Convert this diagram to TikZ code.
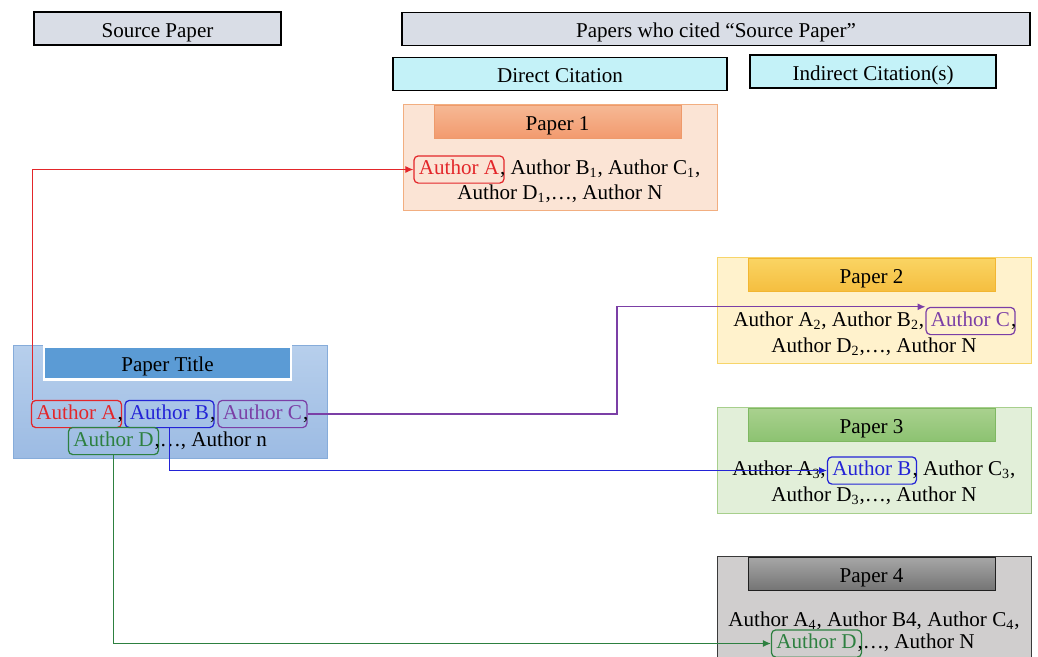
\documentclass[tikz,border=0pt]{standalone}
\usepackage{fontspec}
\setmainfont{Liberation Serif}
\usetikzlibrary{arrows.meta,positioning}

\newcommand{\pix}{0.02cm}

%% bar colours
\definecolor{bargrey}{HTML}{D9DDE6}
\definecolor{barcyan}{HTML}{C4F2F8}
%% paper frames
\definecolor{paperfill1}{HTML}{FBE4D5}
\definecolor{paperline1}{HTML}{F2AE80}
\definecolor{headtop1}{HTML}{F6B894}
\definecolor{headbot1}{HTML}{F29A6E}
\definecolor{headline1}{HTML}{EE9A6B}
\definecolor{paperfill2}{HTML}{FFF2CC}
\definecolor{paperline2}{HTML}{F7D56A}
\definecolor{headtop2}{HTML}{FAD463}
\definecolor{headbot2}{HTML}{F5BE3F}
\definecolor{headline2}{HTML}{F2B632}
\definecolor{paperfill3}{HTML}{E2EFD9}
\definecolor{paperline3}{HTML}{A7CF8C}
\definecolor{headtop3}{HTML}{A9D18E}
\definecolor{headbot3}{HTML}{8CC271}
\definecolor{headline3}{HTML}{7FB862}
\definecolor{paperfill4}{HTML}{D0CECE}
\definecolor{paperline4}{HTML}{3A3A3A}
\definecolor{headtop4}{HTML}{A6A6A6}
\definecolor{headbot4}{HTML}{747474}
\definecolor{headline4}{HTML}{202020}
\definecolor{srctop}{HTML}{B7CFEC}
\definecolor{srcbot}{HTML}{9CBBE3}
\definecolor{srcline}{HTML}{86ACDA}
\definecolor{srchead}{HTML}{5B9BD5}
%% authors
\definecolor{redA}{HTML}{E3262A}
\definecolor{blueB}{HTML}{2323D6}
\definecolor{purpleC}{HTML}{7B3FA6}
\definecolor{greenD}{HTML}{2D8040}

\tikzset{
  titlebar/.style={draw=black, line width=1.1pt, fill=bargrey, inner sep=0pt,
                   minimum height=33*\pix, text height=10pt, text depth=0pt},
  citebar/.style={titlebar, fill=barcyan},
  paperbox/.style={draw, line width=0.6pt, anchor=north west, inner sep=0pt,
                   minimum width=314*\pix, minimum height=106*\pix},
  headbox/.style={draw, line width=0.6pt, anchor=north, inner sep=0pt,
                  minimum width=247*\pix, minimum height=33*\pix,
                  text height=10pt, text depth=0pt},
  authbox/.style={draw=#1, text=#1, line width=0.7pt, rounded corners=2.5pt,
                  inner xsep=2.8pt, inner ysep=2.2pt, text height=8.5pt, text depth=2.6pt},
  authtext/.style={inner sep=0pt},
  link/.style={draw=#1, line width=0.6pt, -{Latex[length=4.5pt,width=4pt]}}
}

\begin{document}
\begin{tikzpicture}[x=\pix, y=-\pix, font=\fontsize{12}{14}\selectfont]
  \clip (0,0) rectangle (1038,656);

  %% top bars
  \node[titlebar, minimum width=247*\pix] (srcbar) at (157.5,28.5) {Source Paper};
  \node[titlebar, minimum width=628*\pix] (citedbar) at (716,29) {Papers who cited “Source Paper”};
  \node[citebar, minimum width=334*\pix] (directbar) at (560,74) {Direct Citation};
  \node[citebar, minimum width=246*\pix] (indirectbar) at (873,71.5) {Indirect Citation(s)};

  %% citing papers
  \foreach \i/\xx/\yy in {1/403/104, 2/717/257, 3/717/407, 4/717/556} {
    \node[paperbox, draw=paperline\i, fill=paperfill\i] (paper\i) at (\xx,\yy) {};
    \node[headbox, draw=headline\i, top color=headtop\i, bottom color=headbot\i]
      (head\i) at ([xshift=-3*\pix, yshift=-1*\pix]paper\i.north) {Paper \i};
  }

  %% source paper
  \node[paperbox, minimum height=113*\pix, draw=srcline, top color=srctop, bottom color=srcbot]
    (srcbox) at (13,345) {};
  \node[headbox, draw=white, line width=1.5pt, fill=srchead] (srctitle) at (167.5,345) {Paper Title};

  %% authors of the source paper
  \node[authbox=redA] (srcA) at (76.5,414) {Author A};
  \node[authbox=blueB] (srcB) at (169.5,414) {Author B};
  \node[authbox=purpleC] (srcC) at (262.5,414) {Author C};
  \node[authtext, anchor=base west] (srcAc) at ([xshift=-2.8pt]srcA.base east) {,};
  \node[authtext, anchor=base west] (srcBc) at ([xshift=-2.8pt]srcB.base east) {,};
  \node[authtext, anchor=base west] (srcCc) at ([xshift=-2.8pt]srcC.base east) {,};
  \node[authbox=greenD] (srcD) at (113.5,441) {Author D};
  \node[authtext, anchor=base west] (srcrest) at ([xshift=-2.8pt]srcD.base east) {,\ldots, Author n};

  %% paper 1
  \node[authbox=redA] (p1A) at (459,169.5) {Author A};
  \node[authtext, anchor=base west] (p1rest) at ([xshift=-2.8pt]p1A.base east)
    {, Author B\textsubscript{1}, Author C\textsubscript{1},};
  \node[authtext, anchor=base] (p1line2) at (560,199) {Author D\textsubscript{1},\ldots, Author N};

  %% paper 2
  \node[authbox=purpleC] (p2C) at (970.5,321) {Author C};
  \node[authtext, anchor=base east] (p2left) at ([xshift=-0.5pt]p2C.base west)
    {Author A\textsubscript{2}, Author B\textsubscript{2},};
  \node[authtext, anchor=base west] (p2rest) at ([xshift=-2.8pt]p2C.base east) {,};
  \node[authtext, anchor=base] (p2line2) at (874,352) {Author D\textsubscript{2},\ldots, Author N};

  %% paper 3
  \node[authbox=blueB] (p3B) at (872,470.5) {Author B};
  \node[authtext, anchor=base east] (p3left) at ([xshift=-0.5pt]p3B.base west) {Author A\textsubscript{3},};
  \node[authtext, anchor=base west] (p3rest) at ([xshift=-2.8pt]p3B.base east)
    {, Author C\textsubscript{3},};
  \node[authtext, anchor=base] (p3line2) at (874,501) {Author D\textsubscript{3},\ldots, Author N};

  %% paper 4
  \node[authtext, anchor=base] (p4line1) at (874,626)
    {Author A\textsubscript{4}, Author B4, Author C\textsubscript{4},};
  \node[authbox=greenD] (p4D) at (816.5,643.5) {Author D};
  \node[authtext, anchor=base west] (p4rest) at ([xshift=-2.8pt]p4D.base east) {,\ldots, Author N};

  %% citation links
  \coordinate (bendC) at (617,0);
  \draw[link=redA] ([xshift=1.2pt]srcA.north west) |- (p1A.west);
  \draw[link=purpleC] (srcC.east) -| (bendC |- p2C.north west) -- (p2C.north west);
  \draw[link=blueB] (srcB.south) |- (p3B.west);
  \draw[link=greenD] (srcD.south) |- (p4D.west);
\end{tikzpicture}
\end{document}
